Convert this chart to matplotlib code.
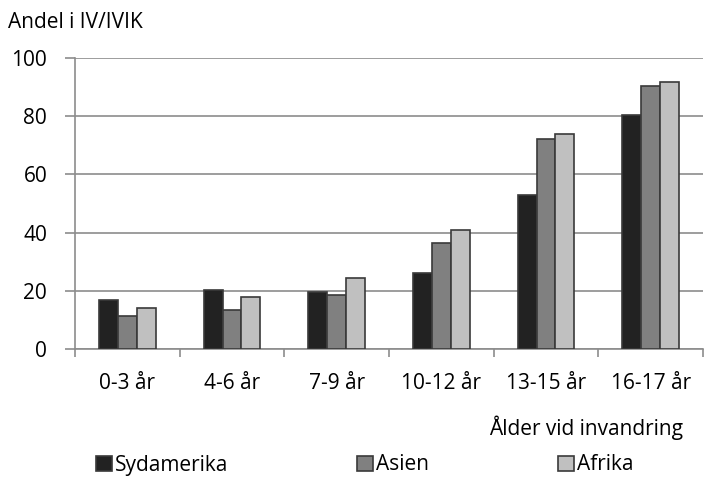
import matplotlib.pyplot as plt
import numpy as np

plt.rcParams["font.family"] = ["Open Sans", "DejaVu Sans"]
plt.rcParams.update({'font.size': 15})

categories = ['0-3 år', '4-6 år', '7-9 år', '10-12 år', '13-15 år', '16-17 år']
sydamerika = [17.0, 20.4, 19.7, 26.0, 52.8, 80.3]
asien = [11.5, 13.5, 18.4, 36.4, 72.0, 90.5]
afrika = [14.2, 17.7, 24.5, 41.0, 73.9, 91.8]
series = [('Sydamerika', sydamerika, '#222222'),
          ('Asien', asien, '#808080'),
          ('Afrika', afrika, '#c0c0c0')]

fig = plt.figure(figsize=(7.05, 4.78), dpi=100)
ax = fig.add_axes([75 / 705, 1 - 349 / 478, 628 / 705, 291 / 478])

x = np.arange(len(categories))
w = 0.18
for i, (name, vals, col) in enumerate(series):
    ax.bar(x + (i - 1) * w, vals, w, color=col, edgecolor='#3a3a3a',
           linewidth=1.2, label=name, zorder=3)

ax.set_xlim(-0.5, len(categories) - 0.5)
ax.set_ylim(0, 100)
ax.set_yticks(range(0, 101, 20))
ax.yaxis.grid(True, color='#8c8c8c', linewidth=1.2, zorder=0)
ax.set_xticks(x)
ax.set_xticklabels(categories)
ax.set_xticks(np.arange(-0.5, len(categories)), minor=True)
ax.tick_params(axis='x', which='major', length=0, pad=17)
ax.tick_params(axis='x', which='minor', length=6, color='#8c8c8c', width=1.2)
ax.tick_params(axis='y', length=7, color='#8c8c8c', width=1.2, pad=13)
for s in ['top', 'right']:
    ax.spines[s].set_visible(False)
for s in ['left', 'bottom']:
    ax.spines[s].set_color('#8c8c8c')
    ax.spines[s].set_linewidth(1.2)

fig.text(8 / 705, 1 - 22 / 478, 'Andel i IV/IVIK', ha='left', va='center')
fig.text(683 / 705, 1 - 428 / 478, 'Ålder vid invandring', ha='right', va='center')

fig.legend(loc='center left', bbox_to_anchor=(96 / 705, 1 - 465 / 478), ncol=3,
           frameon=False, handlelength=0.75, handleheight=0.75, handletextpad=0.15,
           columnspacing=6.2, borderaxespad=0, borderpad=0)

plt.savefig('out.png')
